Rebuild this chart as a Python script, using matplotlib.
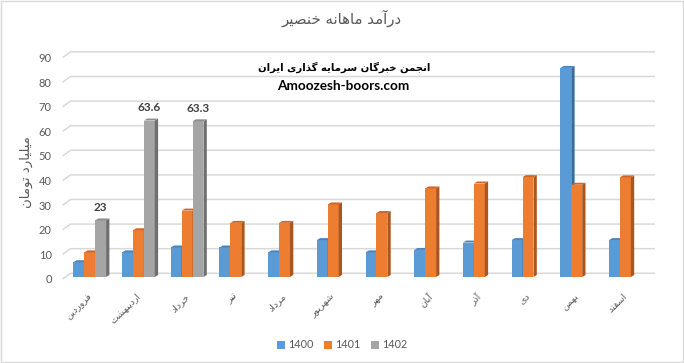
import matplotlib
matplotlib.use('Agg')
import matplotlib.pyplot as plt
from matplotlib.patches import Polygon, Patch, Rectangle

# داده ها
months = ['فروردین', 'اردیبهشت', 'خرداد', 'تیر', 'مرداد', 'شهریور',
          'مهر', 'آبان', 'آذر', 'دی', 'بهمن', 'اسفند']
years = ['1400', '1401', '1402']
s1400 = [6, 10, 12, 12, 10, 15, 10, 11, 14, 15, 85, 15]
s1401 = [10, 19, 27, 22, 22, 29.5, 26, 36, 38, 40.6, 37.5, 40.5]
s1402 = [23, 63.6, 63.3]
yticks = list(range(0, 100, 10))

title = 'درآمد ماهانه خنصیر'
ylabel = 'میلیارد تومان'
mark1 = 'انجمن خبرگان سرمایه گذاری ایران'
mark2 = 'Amoozesh-boors.com'

# شکل حروف عربی (بدون کتابخانه reshaper)
FORMS = {
    'ا': (0xFE8D, 0xFE8E), 'آ': (0xFE81, 0xFE82),
    'د': (0xFEA9, 0xFEAA), 'ذ': (0xFEAB, 0xFEAC),
    'ر': (0xFEAD, 0xFEAE), 'ز': (0xFEAF, 0xFEB0),
    'و': (0xFEED, 0xFEEE),
    'ب': (0xFE8F, 0xFE90, 0xFE91, 0xFE92), 'ت': (0xFE95, 0xFE96, 0xFE97, 0xFE98),
    'ج': (0xFE9D, 0xFE9E, 0xFE9F, 0xFEA0), 'خ': (0xFEA5, 0xFEA6, 0xFEA7, 0xFEA8),
    'س': (0xFEB1, 0xFEB2, 0xFEB3, 0xFEB4), 'ش': (0xFEB5, 0xFEB6, 0xFEB7, 0xFEB8),
    'ص': (0xFEB9, 0xFEBA, 0xFEBB, 0xFEBC), 'ف': (0xFED1, 0xFED2, 0xFED3, 0xFED4),
    'ل': (0xFEDD, 0xFEDE, 0xFEDF, 0xFEE0), 'م': (0xFEE1, 0xFEE2, 0xFEE3, 0xFEE4),
    'ن': (0xFEE5, 0xFEE6, 0xFEE7, 0xFEE8), 'ه': (0xFEE9, 0xFEEA, 0xFEEB, 0xFEEC),
    'ی': (0xFBFC, 0xFBFD, 0xFBFE, 0xFBFF), 'گ': (0xFB92, 0xFB93, 0xFB94, 0xFB95),
}


def fa(text):
    out = []
    for i, c in enumerate(text):
        if c not in FORMS:
            out.append(c)
            continue
        f = FORMS[c]
        prev = text[i - 1] if i > 0 else ''
        nxt = text[i + 1] if i + 1 < len(text) else ''
        jp = prev in FORMS and len(FORMS[prev]) == 4
        jn = len(f) == 4 and nxt in FORMS
        if jp and jn:
            g = f[3]
        elif jp:
            g = f[1]
        elif jn:
            g = f[2]
        else:
            g = f[0]
        out.append(chr(g))
    return ''.join(reversed(out))


plt.rcParams['font.family'] = ['Lato', 'DejaVu Sans']
txt = '#595959'

colors = [('#5B9BD5', '#4A84BC', '#3C6A96'),
          ('#ED7D31', '#CF6629', '#A9561F'),
          ('#A5A5A5', '#8E8E8E', '#6F6F6F')]

fig = plt.figure(figsize=(6.84, 3.63), dpi=100)
ax = fig.add_axes([0.0808, 0.2044, 0.9007, 0.6708])
ax.set_xlim(-0.65, 12.0)
ax.set_ylim(-4, 95)

# دیوار پشتی و خطوط شبکه
DX, DY = 0.164, 2.32
x0, x1 = -0.5, 11.5
for g in yticks:
    ax.plot([x0, x0 + DX, x1 + DX], [g, g + DY, g + DY],
            color='#D9D9D9', lw=1.1, zorder=1, solid_capstyle='butt')

# ستون ها با نمای سه بعدی
w = 0.224
bx, by = 0.35 * DX, 0.35 * DY
ddx, ddy = 0.068, 0.8
series = [s1400, s1401, s1402]
for k, vals in enumerate(series):
    front, top, side = colors[k]
    xs = [i + (k - 1) * w + bx for i in range(len(vals))]
    z = 3 + k
    ax.bar(xs, vals, width=w, bottom=by, color=front, zorder=z)
    for x, v in zip(xs, vals):
        r = x + w / 2
        l = x - w / 2
        ax.add_patch(Polygon([(r, by), (r + ddx, by + ddy), (r + ddx, v + by + ddy), (r, v + by)],
                             closed=True, facecolor=side, edgecolor='none', zorder=z))
        ax.add_patch(Polygon([(l, v + by), (l + ddx, v + by + ddy), (r + ddx, v + by + ddy), (r, v + by)],
                             closed=True, facecolor=top, edgecolor='none', zorder=z))

# برچسب داده های 1402
for i, v in enumerate(s1402):
    ax.text(i + w + bx, v + 6.2, f'{v:g}', ha='center', va='center',
            fontsize=8.5, fontweight='bold', color='#404040', zorder=10)

for s in ax.spines.values():
    s.set_visible(False)
ax.set_yticks(yticks)
ax.set_yticklabels([str(t) for t in yticks], fontsize=8, color=txt)
ax.set_xticks(range(len(months)))
ax.set_xticklabels([fa(m) for m in months], rotation=45, ha='right',
                   rotation_mode='anchor', fontsize=6.8, color=txt, family='DejaVu Sans')
ax.tick_params(axis='both', length=0)
ax.tick_params(axis='y', pad=2.5)
ax.tick_params(axis='x', pad=2)

fig.text(0.038, 1 - 172 / 363, fa(ylabel), rotation=90, ha='center', va='center',
         fontsize=9.5, color=txt, family='DejaVu Sans')
fig.text(0.5, 1 - 18 / 363, fa(title), ha='center', va='center',
         fontsize=10.8, color=txt, family='DejaVu Sans')
fig.text(344 / 684, 1 - 67 / 363, fa(mark1), ha='center', va='center',
         fontsize=7.3, fontweight='bold', color='black', family='DejaVu Sans')
fig.text(343 / 684, 1 - 86 / 363, mark2, ha='center', va='center',
         fontsize=9.8, fontweight='bold', color='black')

handles = [Patch(facecolor=c[0], label=y) for c, y in zip(colors, years)]
fig.legend(handles=handles, loc='center', bbox_to_anchor=(0.5, 1 - 345 / 363), ncol=3,
           frameon=False, fontsize=7.8, handlelength=0.7, handleheight=0.7,
           handletextpad=0.3, columnspacing=1.0, labelcolor=txt)

fig.patches.append(Rectangle((0.001, 0.002), 0.997, 0.995, transform=fig.transFigure,
                             fill=False, edgecolor='#D9D9D9', lw=1))

plt.savefig('out.png', dpi=100)
